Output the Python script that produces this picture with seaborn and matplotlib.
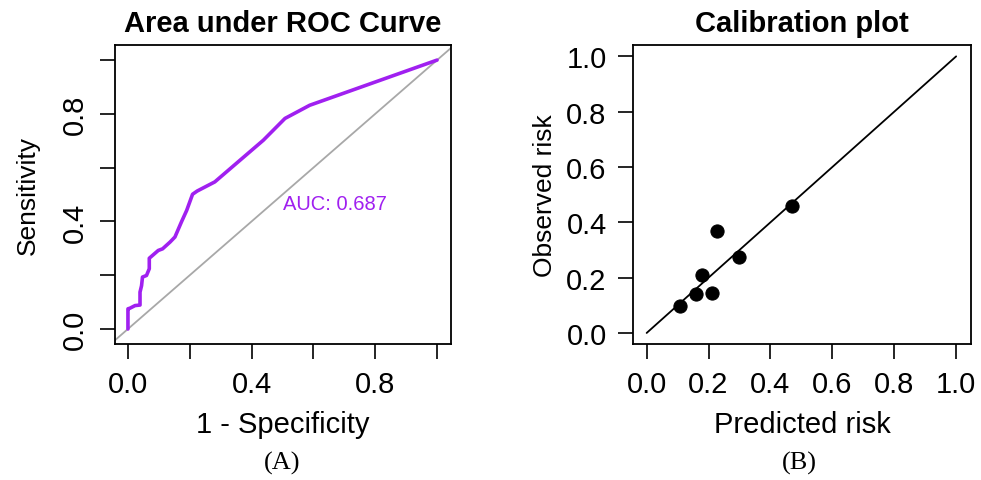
import seaborn as sns
import pandas as pd
import matplotlib.pyplot as plt


sns.set_style("ticks")
plt.rcParams['font.family'] = ['Liberation Sans', 'DejaVu Sans']
plt.rcParams['text.color'] = 'black'
plt.rcParams['axes.labelcolor'] = 'black'
plt.rcParams['xtick.color'] = 'black'
plt.rcParams['ytick.color'] = 'black'

# ROC curve
roc_fpr = [0.0, 0.0, 0.006, 0.023, 0.039, 0.039, 0.044, 0.047, 0.060, 0.069,
           0.069, 0.082, 0.098, 0.112, 0.136, 0.152, 0.173, 0.190, 0.209,
           0.224, 0.281, 0.362, 0.438, 0.508, 0.588, 1.0]
roc_tpr = [0.0, 0.075, 0.077, 0.087, 0.089, 0.137, 0.161, 0.193, 0.199, 0.224,
           0.263, 0.276, 0.292, 0.298, 0.323, 0.342, 0.398, 0.441, 0.501,
           0.513, 0.547, 0.627, 0.702, 0.783, 0.832, 1.0]
auc_value = 0.687

# calibration points
pred_risk = [0.109, 0.158, 0.179, 0.210, 0.228, 0.297, 0.471]
obs_risk = [0.096, 0.142, 0.209, 0.143, 0.370, 0.276, 0.459]

ticks = [0.0, 0.2, 0.4, 0.6, 0.8, 1.0]
roc_labels = ['0.0', '', '0.4', '', '0.8', '']
cal_labels = ['0.0', '0.2', '0.4', '0.6', '0.8', '1.0']


def style_box(ax):
    for s in ax.spines.values():
        s.set_visible(True)
        s.set_linewidth(1.3)
        s.set_color('black')
    ax.tick_params(length=11, width=1.2, labelsize=21, pad=8)


fig = plt.figure(figsize=(9.81, 4.81), dpi=100)
ax1 = fig.add_axes([0.1172, 0.2827, 0.3425, 0.6216])
ax2 = fig.add_axes([0.6453, 0.2827, 0.3445, 0.6216])

# --- ROC panel
roc = pd.DataFrame({'fpr': roc_fpr, 'tpr': roc_tpr})
ax1.axline((0, 0), (1, 1), color='#A8A8A8', lw=1.3, zorder=1)
sns.lineplot(data=roc, x='fpr', y='tpr', sort=False, estimator=None,
             color='#A020F0', lw=2.6, ax=ax1)
ax1.text(0.50, 0.465, 'AUC: %.3f' % auc_value, color='#A020F0',
         fontsize=14.5, va='center', ha='left')
ax1.set_xlim(-0.042, 1.045)
ax1.set_ylim(-0.056, 1.056)
ax1.set_xticks(ticks)
ax1.set_xticklabels(roc_labels)
ax1.set_yticks(ticks)
ax1.set_yticklabels(roc_labels, rotation=90, va='center')
style_box(ax1)
ax1.set_xlabel('1 - Specificity', fontsize=21, labelpad=8)
ax1.set_ylabel('Sensitivity', fontsize=19, labelpad=15)
ax1.set_title('Area under ROC Curve', fontsize=21, fontweight='bold', pad=10)

# --- calibration panel
cal = pd.DataFrame({'pred': pred_risk, 'obs': obs_risk})
ref = pd.DataFrame({'pred': [0.0, 1.0], 'obs': [0.0, 1.0]})
sns.lineplot(data=ref, x='pred', y='obs', color='black', lw=1.3, ax=ax2)
sns.scatterplot(data=cal, x='pred', y='obs', color='black', s=90,
                edgecolor='black', zorder=3, ax=ax2)
ax2.set_xlim(-0.044, 1.048)
ax2.set_ylim(-0.04, 1.041)
ax2.set_xticks(ticks)
ax2.set_xticklabels(cal_labels)
ax2.set_yticks(ticks)
ax2.set_yticklabels(cal_labels)
style_box(ax2)
ax2.set_xlabel('Predicted risk', fontsize=21, labelpad=8)
ax2.set_ylabel('Observed risk', fontsize=19, labelpad=7)
ax2.set_title('Calibration plot', fontsize=21, fontweight='bold', pad=10)

fig.text(0.2875, 0.037, '(A)', family='Liberation Serif', fontsize=19,
         ha='center', va='center')
fig.text(0.815, 0.037, '(B)', family='Liberation Serif', fontsize=19,
         ha='center', va='center')

fig.savefig('out.png', dpi=100)
